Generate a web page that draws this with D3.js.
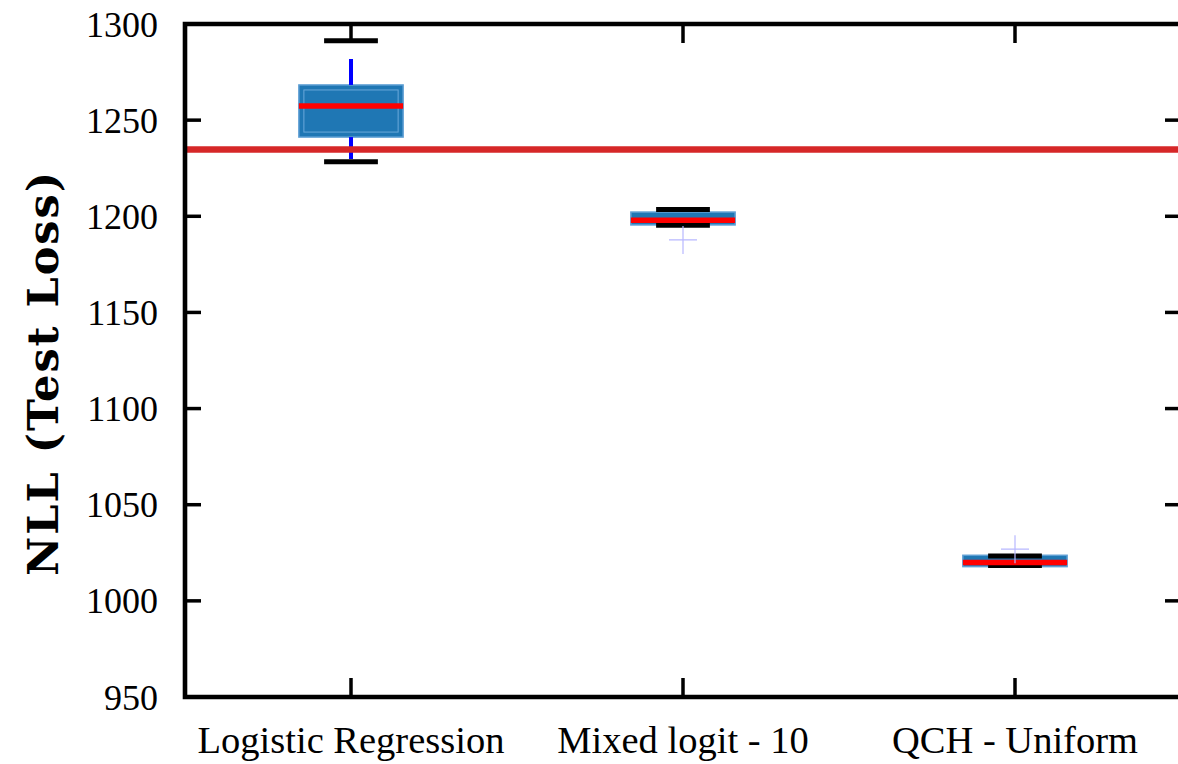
<!DOCTYPE html>
<html>
<head>
<meta charset="utf-8">
<script src="https://cdn.jsdelivr.net/npm/d3@7"></script>
<style>
  html, body { margin: 0; padding: 0; background: #fff; }
  svg { display: block; }
</style>
</head>
<body>
<div id="chart"></div>
<script>
// ---- data ----
const categories = ["Logistic Regression", "Mixed logit - 10", "QCH - Uniform"];
const q1Values = [1241.2, 1195.5, 1017.8];
const q3Values = [1268.3, 1202.2, 1023.7];
const medianValues = [1257.4, 1197.9, 1020.0];
const whiskerLowValues = [1229.8, 1195.5, 1017.8];
const whiskerHighValues = [1281.8, 1202.2, 1023.7];
const capLowValues = [1228.4, 1195.4, 1018.4];
const capHighValues = [1291.3, 1203.5, 1023.3];
const outlierValues = [[], [1187.7], [1026.9]];
const baselineValue = 1234.7;
const yTicks = [950, 1000, 1050, 1100, 1150, 1200, 1250, 1300];
const yLabel = "NLL (Test Loss)";

// ---- layout ----
const W = 1178, H = 764;
const mLeft = 185, mRight = 1181, mTop = 24, mBottom = 697;

const svg = d3.select("#chart").append("svg").attr("width", W).attr("height", H);

const x = d3.scaleLinear().domain([0.5, categories.length + 0.5]).range([mLeft, mRight]);
const y = d3.scaleLinear().domain([950, 1300]).range([mBottom, mTop]);

const boxHalf = 0.157, capHalf = 0.081;

const g = svg.append("g");

const data = categories.map((c, i) => ({
  c, pos: i + 1, q1: q1Values[i], q3: q3Values[i], med: medianValues[i],
  wl: whiskerLowValues[i], wh: whiskerHighValues[i],
  cl: capLowValues[i], ch: capHighValues[i], out: outlierValues[i]
}));

data.forEach(d => {
  const x0 = x(d.pos - boxHalf), x1 = x(d.pos + boxHalf);
  const yt = y(d.q3), yb = y(d.q1);
  g.append("rect").attr("x", x0).attr("y", yt).attr("width", x1 - x0).attr("height", yb - yt)
    .attr("fill", "#1f77b4").attr("stroke", "#5e9fd4").attr("stroke-width", 1.5);
  if (yb - yt > 14) {
    g.append("rect").attr("x", x0 + 5).attr("y", yt + 5).attr("width", x1 - x0 - 10).attr("height", yb - yt - 10)
      .attr("fill", "none").attr("stroke", "#6aa8da").attr("stroke-width", 1);
  }
  if (d.wh > d.q3) g.append("line").attr("x1", x(d.pos)).attr("x2", x(d.pos)).attr("y1", y(d.wh)).attr("y2", yt)
    .attr("stroke", "#0000ff").attr("stroke-width", 4);
  if (d.wl < d.q1) g.append("line").attr("x1", x(d.pos)).attr("x2", x(d.pos)).attr("y1", yb).attr("y2", y(d.wl))
    .attr("stroke", "#0000ff").attr("stroke-width", 4);
  [d.cl, d.ch].forEach(v => {
    g.append("line").attr("x1", x(d.pos - capHalf)).attr("x2", x(d.pos + capHalf)).attr("y1", y(v)).attr("y2", y(v))
      .attr("stroke", "#000").attr("stroke-width", 5);
  });
  g.append("line").attr("x1", x0).attr("x2", x1).attr("y1", y(d.med)).attr("y2", y(d.med))
    .attr("stroke", "#ff0000").attr("stroke-width", 5.5);
  d.out.forEach(v => {
    const cx = x(d.pos), cy = y(v), r = 14;
    g.append("path").attr("d", `M${cx - r},${cy}H${cx + r}M${cx},${cy - r}V${cy + r}`)
      .attr("stroke", "#b8b8ff").attr("stroke-width", 1.2).attr("fill", "none");
  });
});

// baseline
g.append("line").attr("x1", mLeft).attr("x2", mRight).attr("y1", y(baselineValue)).attr("y2", y(baselineValue))
  .attr("stroke", "#d62728").attr("stroke-width", 6.5);

// spines
const sp = svg.append("g").attr("stroke", "#000").attr("stroke-width", 4.6).attr("fill", "none");
sp.append("path").attr("d", `M${mLeft},${mTop}V${mBottom}H${mRight}V${mTop}Z`).attr("stroke-linejoin", "miter");

const tickLen = 16;
yTicks.forEach(t => {
  sp.append("line").attr("x1", mLeft).attr("x2", mLeft + tickLen).attr("y1", y(t)).attr("y2", y(t)).attr("stroke-width", 3.5);
  sp.append("line").attr("x1", mRight).attr("x2", mRight - tickLen).attr("y1", y(t)).attr("y2", y(t)).attr("stroke-width", 3.5);
});
data.forEach(d => {
  sp.append("line").attr("x1", x(d.pos)).attr("x2", x(d.pos)).attr("y1", mTop).attr("y2", mTop + 19).attr("stroke-width", 3.5);
  sp.append("line").attr("x1", x(d.pos)).attr("x2", x(d.pos)).attr("y1", mBottom).attr("y2", mBottom - 19).attr("stroke-width", 3.5);
});

// y tick labels
svg.append("g").selectAll("text").data(yTicks).join("text")
  .attr("x", mLeft - 27).attr("y", d => y(d)).attr("dy", "0.35em")
  .attr("text-anchor", "end")
  .style("font-family", "'Liberation Serif', serif").style("font-size", "36px").style("fill", "#000")
  .text(d => d);

// x labels
svg.append("g").selectAll("text").data(data).join("text")
  .attr("x", d => x(d.pos)).attr("y", 753)
  .attr("text-anchor", "middle")
  .style("font-family", "'Liberation Serif', serif").style("font-size", "38.5px").style("fill", "#000")
  .text(d => d.c);

// y axis title
svg.append("text")
  .attr("transform", `translate(58,373) rotate(-90)`)
  .attr("text-anchor", "middle")
  .style("font-family", "'DejaVu Serif', serif").style("font-weight", "bold").style("font-size", "43px")
  .style("letter-spacing", "2px").style("fill", "#000")
  .text(yLabel);
</script>
</body>
</html>
